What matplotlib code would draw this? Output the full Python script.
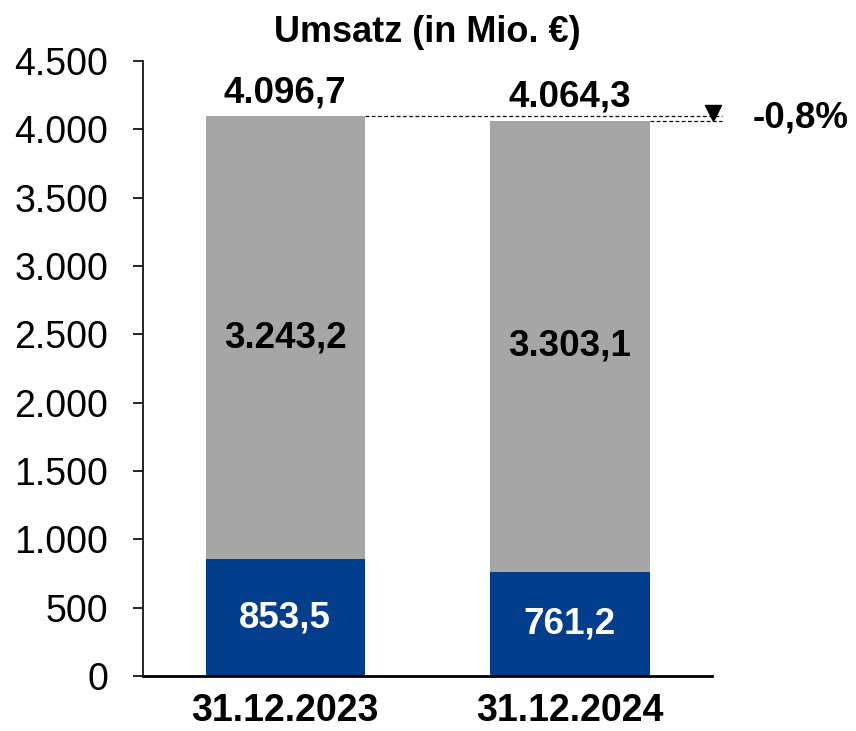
import matplotlib
matplotlib.use("Agg")
import matplotlib.pyplot as plt
from matplotlib.ticker import FuncFormatter

# data
dates = ["31.12.2023", "31.12.2024"]
blue_part = [853.5, 761.2]
gray_part = [3243.2, 3303.1]
totals = [4096.7, 4064.3]
change_label = "-0,8%"
yticks = [0, 500, 1000, 1500, 2000, 2500, 3000, 3500, 4000, 4500]

def de_num(v, dec=1):
    s = f"{v:,.{dec}f}"
    return s.replace(",", "X").replace(".", ",").replace("X", ".")

plt.rcParams['font.family'] = ['Liberation Sans', 'DejaVu Sans']

fig = plt.figure(figsize=(8.56, 7.31), dpi=100)
ax = fig.add_axes([0.167, 0.0752, 0.665, 0.8414])

x = list(range(len(dates)))
w = 0.56
lab_fs = 26.5
ax.bar(x, blue_part, width=w, color='#023E8C', zorder=2)
ax.bar(x, gray_part, width=w, bottom=blue_part, color='#A6A6A6', zorder=2)

for i in x:
    ax.text(i, blue_part[i] / 2, de_num(blue_part[i]), ha='center', va='center',
            color='white', fontsize=lab_fs, fontweight='bold')
    ax.text(i, blue_part[i] + gray_part[i] / 2, de_num(gray_part[i]), ha='center', va='center',
            color='black', fontsize=lab_fs, fontweight='bold')
    ax.annotate(de_num(totals[i]), (i, totals[i]), xytext=(0, 10), textcoords='offset points',
                ha='center', va='baseline', fontsize=lab_fs, fontweight='bold')

# dashed reference lines + change marker
line_end = 1.534
ax.plot([0 + w / 2, line_end], [totals[0], totals[0]], ls='--', color='black', lw=0.9,
        dashes=(3, 2), clip_on=False, zorder=3)
ax.plot([1 + w / 2, line_end], [totals[1], totals[1]], ls='--', color='black', lw=0.9,
        dashes=(3, 2), clip_on=False, zorder=3)
ax.plot([1.503], [(totals[0] + totals[1]) / 2 + 40], marker='v', color='black', ms=12,
        clip_on=False, zorder=4)
ax.text(1.643, (totals[0] + totals[1]) / 2, change_label, ha='left', va='center',
        fontsize=lab_fs, fontweight='bold')

ax.set_xlim(-0.5, 1.5)
ax.set_ylim(0, 4500)
ax.set_yticks(yticks)
ax.yaxis.set_major_formatter(FuncFormatter(lambda v, p: de_num(v, 0)))
ax.set_xticks(x)
ax.set_xticklabels(dates, fontsize=27, fontweight='bold')
ax.tick_params(axis='x', length=0, pad=12)
ax.tick_params(axis='y', length=7, width=1.2, labelsize=27, pad=18)

for s in ['top', 'right']:
    ax.spines[s].set_visible(False)
ax.spines['left'].set_linewidth(1.2)
ax.spines['bottom'].set_linewidth(2)

ax.set_title("Umsatz (in Mio. €)", fontsize=26, fontweight='bold', pad=14)

fig.savefig("out.png", dpi=100)
